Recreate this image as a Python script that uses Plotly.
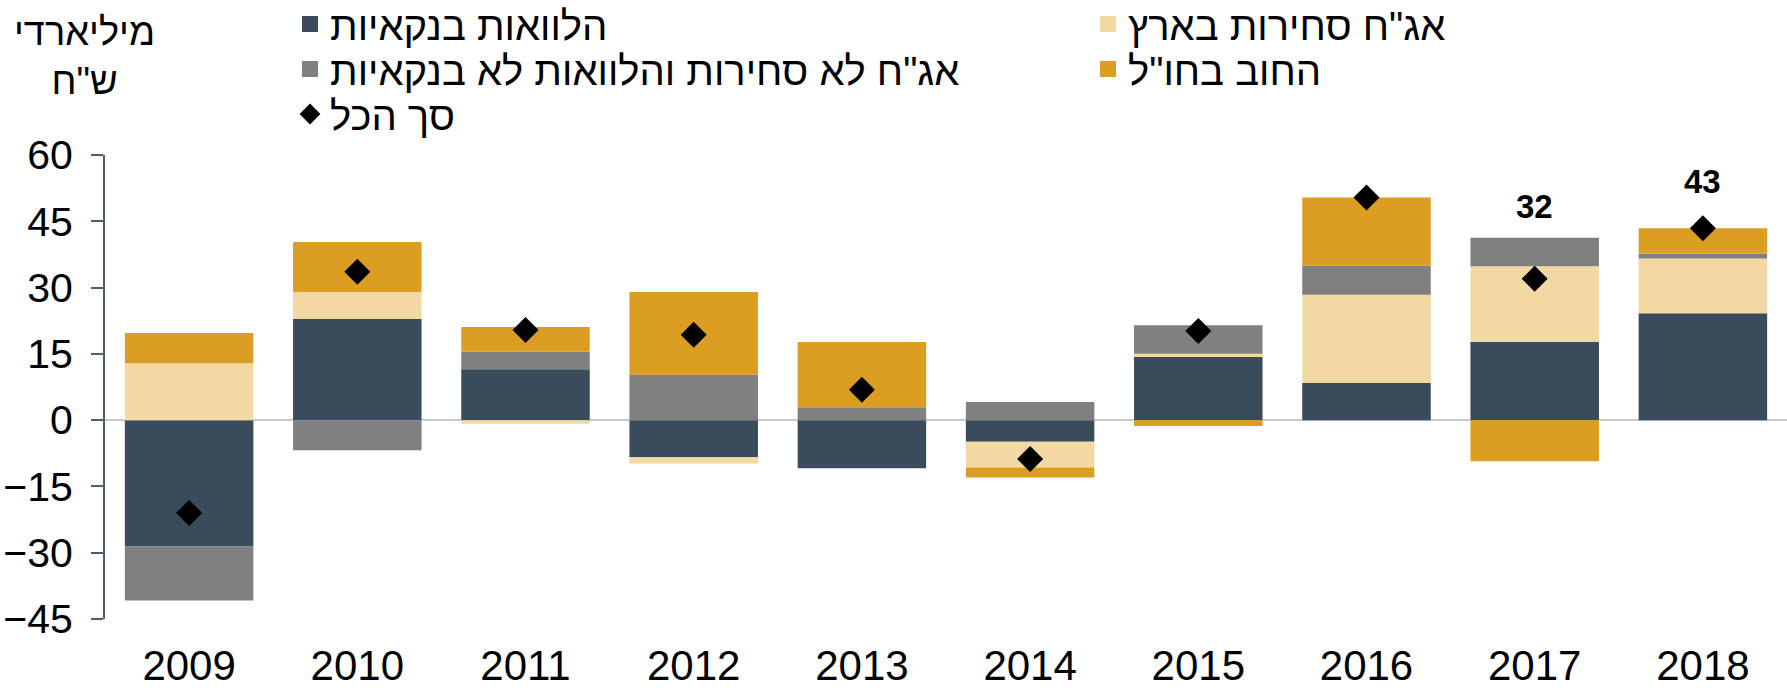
import plotly.graph_objects as go

years = ['2009', '2010', '2011', '2012', '2013', '2014', '2015', '2016', '2017', '2018']
bank_loans = [-28.6, 22.9, 11.5, -8.4, -10.9, -4.9, 14.3, 8.4, 17.7, 24.2]
tradable_bonds = [12.9, 6.1, -0.8, -1.4, 0.0, -5.8, 0.7, 20.0, 17.1, 12.4]
nontradable_debt = [-12.2, -6.8, 4.0, 10.3, 2.9, 4.1, 6.5, 6.6, 6.5, 1.1]
foreign_debt = [6.8, 11.3, 5.6, 18.7, 14.8, -2.3, -1.3, 15.4, -9.3, 5.7]
totals = [-21.0, 33.6, 20.4, 19.3, 6.9, -8.8, 20.2, 50.4, 32.0, 43.4]
label_years = ['2017', '2018']
label_texts = ['32', '43']

names = ['הלוואות בנקאיות', 'אג"ח סחירות בארץ', 'אג"ח לא סחירות והלוואות לא בנקאיות', 'החוב בחו"ל']
colors = ['#3A4B5C', '#F2D8A2', '#808080', '#DC9E22']
series = [bank_loans, tradable_bonds, nontradable_debt, foreign_debt]
total_name = 'סך הכל'
y_ticks = [60, 45, 30, 15, 0, -15, -30, -45]

FONT = 'Liberation Sans, Arial, sans-serif'

# plot area in pixels
L, T, W, H = 105, 155, 1682, 464


def px_x(p):
    return (p - L) / W


def px_y(p):
    return (T + H - p) / H


fig = go.Figure()
for nm, col, vals in zip(names, colors, series):
    fig.add_trace(go.Bar(x=years, y=vals, name=nm, marker=dict(color=col, line=dict(width=0)),
                         showlegend=False))
fig.add_trace(go.Scatter(x=years, y=totals, mode='markers', name=total_name, showlegend=False,
                         marker=dict(symbol='diamond', size=20, color='black')))

# legend entries (each in its own legend box, arranged as in the reference)
legend_ids = ['legend', 'legend2', 'legend3', 'legend4', 'legend5']
legend_pos = [(290, 24), (1088, 24), (290, 69), (1088, 69), (290, 114)]
symbols = ['square'] * 4 + ['diamond']
leg_colors = colors + ['black']
leg_names = names + [total_name]
for lid, nm, col, sym in zip(legend_ids, leg_names, leg_colors, symbols):
    fig.add_trace(go.Scatter(x=[years[0]], y=[None], mode='markers', name=nm, legend=lid,
                             marker=dict(symbol=sym, size=16, color=col)))

layout_legends = {}
for lid, (lx, ly) in zip(legend_ids, legend_pos):
    layout_legends[lid] = dict(x=px_x(lx), y=px_y(ly), xanchor='left', yanchor='middle',
                               font=dict(size=40, family=FONT, color='black'),
                               itemsizing='trace', bgcolor='rgba(0,0,0,0)', borderwidth=0)

annotations = [dict(x=years.index(yr), y=yv, text='<b>%s</b>' % t, showarrow=False, xref='x', yref='y',
                    font=dict(size=33, color='black', family=FONT))
               for yr, t, yv in zip(label_years, label_texts, [48.3, 53.9])]
annotations.append(dict(x=px_x(84), y=px_y(57), xref='paper', yref='paper',
                        text='מיליארדי<br>ש"ח', showarrow=False,
                        font=dict(size=38, color='black', family=FONT), xanchor='center', yanchor='middle'))

fig.update_layout(
    width=1787, height=692,
    margin=dict(l=L, r=1787 - L - W, t=T, b=692 - T - H, autoexpand=False),
    paper_bgcolor='white', plot_bgcolor='white',
    barmode='relative', bargap=0.236,
    font=dict(family=FONT, color='black', size=38),
    showlegend=True,
    annotations=annotations,
    **layout_legends,
)
fig.update_xaxes(type='category', range=[-0.5, len(years) - 0.5], showline=False, ticks='',
                 showgrid=False, zeroline=False,
                 tickfont=dict(size=42, family=FONT, color='black'), ticklabelstandoff=18)
fig.update_yaxes(range=[-45, 60], tickvals=y_ticks, showgrid=False, showline=True, linecolor='#4F5E6D',
                 linewidth=2, ticks='outside', ticklen=12, tickwidth=2, tickcolor='#4F5E6D',
                 zeroline=True, zerolinecolor='#C8C8C8', zerolinewidth=1.5,
                 tickfont=dict(size=41, family=FONT, color='black'), ticklabelstandoff=10)

fig.write_html('out.html', config={'displayModeBar': False},
               post_script="document.body.style.margin='0';")
